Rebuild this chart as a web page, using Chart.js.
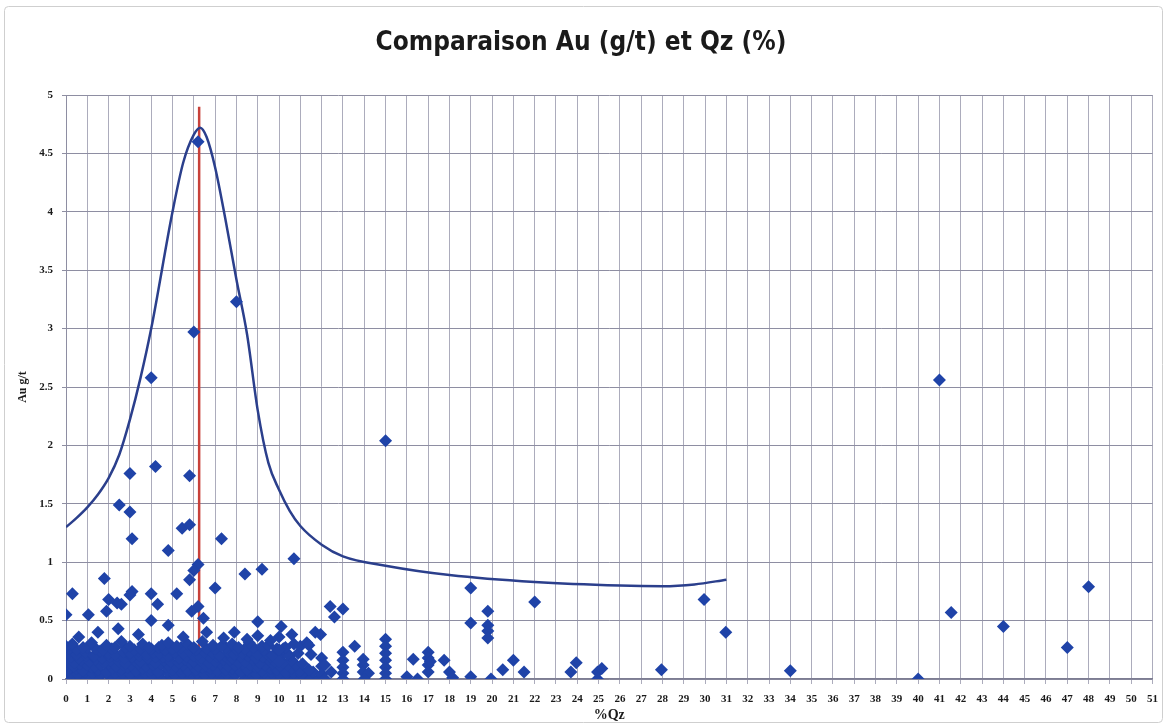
<!DOCTYPE html>
<html>
<head>
<meta charset="utf-8">
<script src="https://cdn.jsdelivr.net/npm/chart.js@4/dist/chart.umd.min.js"></script>
<style>
  html, body { margin: 0; padding: 0; background: #ffffff; }
  #wrap { width: 1167px; height: 727px; }
</style>
</head>
<body>
<div id="wrap"><canvas id="chart" width="1167" height="727"></canvas></div>
<script>
// Low-grade samples forming the dense band near the x axis, row by row
const lowQz = [
  0, 0.3, 0.7, 1.0, 1.4, 1.7, 2.1, 2.4, 2.8, 3.1, 3.5, 3.8, 4.2, 4.5, 4.9, 5.2, 5.6, 5.9, 6.3, 6.6, 7.0, 7.3, 7.7, 8.0, 8.4, 8.7, 9.1, 9.4, 9.8, 10.1, 10.5, 10.8, 11.2, 11.5, 11.9,
  0.2, 0.55, 0.9, 1.25, 1.6, 1.95, 2.3, 2.65, 3.0, 3.35, 3.7, 4.05, 4.4, 4.75, 5.1, 5.45, 5.8, 6.15, 6.5, 6.85, 7.2, 7.55, 7.9, 8.25, 8.6, 8.95, 9.3, 9.65, 10.0, 10.35, 10.7, 11.05, 11.6,
  0.1, 0.5, 0.8, 1.2, 1.5, 1.9, 2.2, 2.6, 2.9, 3.3, 3.6, 4.0, 4.3, 4.7, 5.0, 5.4, 5.7, 6.1, 6.4, 6.8, 7.1, 7.5, 7.8, 8.2, 8.5, 8.9, 9.2, 9.6, 9.9, 10.3, 10.6, 11.0, 11.4,
  0.0, 0.35, 0.65, 1.0, 1.35, 1.65, 2.0, 2.35, 2.7, 3.05, 3.4, 3.75, 4.1, 4.45, 4.8, 5.15, 5.5, 5.85, 6.2, 6.55, 6.9, 7.25, 7.6, 7.95, 8.3, 8.65, 9.0, 9.35, 9.7, 10.05, 10.4, 10.8,
  0, 0.4, 0.7, 1.1, 1.4, 1.8, 2.1, 2.5, 2.8, 3.2, 3.5, 3.9, 4.2, 4.6, 4.9, 5.3, 5.6, 6.0, 6.3, 6.7, 7.0, 7.4, 7.7, 8.1, 8.4, 8.8, 9.1, 9.5, 9.8, 10.2, 10.6, 11.1,
  0.25, 0.6, 0.95, 1.3, 1.7, 2.05, 2.4, 2.75, 3.1, 3.45, 3.85, 4.2, 4.55, 4.9, 5.3, 5.65, 6.0, 6.35, 6.75, 7.1, 7.45, 7.8, 8.2, 8.55, 8.9, 9.25, 9.6, 10.0, 10.5,
  0.1, 0.5, 0.9, 1.3, 1.6, 2.0, 2.3, 2.7, 3.0, 3.4, 3.8, 4.1, 4.4, 4.8, 5.1, 5.5, 5.8, 6.2, 6.5, 6.9, 7.2, 7.6, 7.9, 8.3, 8.6, 9.0, 9.4, 9.7, 10.1, 10.4, 10.9,
  0.15, 0.5, 1.0, 1.4, 1.75, 2.15, 2.8, 3.2, 3.5, 4.0, 4.35, 4.65, 5.0, 5.4, 6.1, 6.6, 7.0, 7.5, 8.0, 8.4, 8.8, 9.3, 9.9, 10.2,
  0.0, 0.3, 0.8, 1.2, 1.9, 2.3, 2.6, 3.0, 3.6, 3.9, 4.5, 4.8, 5.2, 5.7, 6.0, 6.4, 6.9, 7.3, 7.8, 8.1, 8.6, 9.2, 9.5, 10.3, 10.7
];
const lowAu = [
  0.02, 0.01, 0.03, 0.00, 0.02, 0.04, 0.01, 0.02, 0.00, 0.03, 0.01, 0.02, 0.04, 0.00, 0.02, 0.01, 0.03, 0.02, 0.00, 0.01, 0.03, 0.02, 0.01, 0.04, 0.00, 0.02, 0.03, 0.01, 0.02, 0.00, 0.03, 0.01, 0.02, 0.00, 0.01,
  0.05, 0.04, 0.06, 0.05, 0.04, 0.06, 0.05, 0.05, 0.04, 0.06, 0.05, 0.04, 0.05, 0.06, 0.04, 0.05, 0.06, 0.05, 0.04, 0.05, 0.06, 0.04, 0.05, 0.05, 0.06, 0.04, 0.05, 0.06, 0.04, 0.05, 0.05, 0.04, 0.06,
  0.08, 0.09, 0.07, 0.10, 0.08, 0.06, 0.09, 0.08, 0.10, 0.07, 0.09, 0.08, 0.06, 0.10, 0.08, 0.09, 0.07, 0.08, 0.10, 0.09, 0.07, 0.08, 0.09, 0.06, 0.08, 0.10, 0.07, 0.09, 0.08, 0.06, 0.09, 0.07, 0.08,
  0.12, 0.11, 0.13, 0.12, 0.11, 0.12, 0.13, 0.11, 0.12, 0.12, 0.13, 0.11, 0.12, 0.13, 0.12, 0.11, 0.12, 0.13, 0.11, 0.12, 0.12, 0.13, 0.11, 0.12, 0.13, 0.12, 0.11, 0.12, 0.13, 0.11, 0.12, 0.12,
  0.15, 0.14, 0.16, 0.15, 0.17, 0.14, 0.16, 0.15, 0.13, 0.16, 0.15, 0.17, 0.14, 0.16, 0.15, 0.14, 0.17, 0.15, 0.16, 0.14, 0.15, 0.17, 0.16, 0.14, 0.15, 0.16, 0.14, 0.17, 0.15, 0.14, 0.16, 0.13,
  0.19, 0.18, 0.20, 0.19, 0.18, 0.19, 0.20, 0.18, 0.19, 0.20, 0.18, 0.19, 0.19, 0.20, 0.18, 0.19, 0.20, 0.18, 0.19, 0.19, 0.20, 0.18, 0.19, 0.20, 0.18, 0.19, 0.19, 0.18, 0.20,
  0.22, 0.21, 0.23, 0.20, 0.24, 0.22, 0.21, 0.23, 0.22, 0.24, 0.21, 0.23, 0.22, 0.20, 0.23, 0.22, 0.24, 0.21, 0.23, 0.22, 0.20, 0.23, 0.21, 0.22, 0.24, 0.21, 0.22, 0.20, 0.23, 0.21, 0.22,
  0.26, 0.25, 0.27, 0.26, 0.25, 0.26, 0.27, 0.25, 0.26, 0.26, 0.27, 0.25, 0.26, 0.27, 0.25, 0.26, 0.26, 0.27, 0.25, 0.26, 0.27, 0.25, 0.26, 0.26,
  0.28, 0.30, 0.27, 0.31, 0.29, 0.27, 0.32, 0.28, 0.30, 0.27, 0.29, 0.31, 0.28, 0.30, 0.27, 0.32, 0.29, 0.28, 0.30, 0.27, 0.31, 0.28, 0.29, 0.27, 0.30
];

// Remaining individual samples
const sampleQz = [
  6.2, 6.0, 8.0, 4.0, 15.0, 41.0,
  3.0, 4.2, 2.5, 3.0, 3.1, 5.8, 5.45, 5.8, 4.8, 7.3,
  6.2, 6.0, 5.8, 7.0, 8.4, 9.2, 10.7,
  1.8, 0.3, 0.0, 3.1, 3.0, 4.0, 4.3, 5.2, 2.4, 2.6, 2.0, 1.9, 1.05,
  6.2, 5.9, 6.45, 7.9, 9.0, 9.0, 10.1, 10.0,
  12.4, 13.0, 12.6, 11.7, 11.95,
  0.6, 1.5, 2.45, 3.4, 4.8, 4.0, 5.5, 6.6, 7.4, 8.5, 9.6, 10.6,
  10.0, 10.0, 11.0, 11.3, 11.4, 11.5,
  12.0, 12.0, 12.0, 12.15, 12.15, 12.45,
  13.0, 13.0, 13.0, 13.0, 13.0, 13.55,
  13.95, 13.95, 13.95, 14.2, 14.0,
  15.0, 15.0, 15.0, 15.0, 15.0, 15.0, 15.0,
  16.0, 16.5, 16.3,
  17.0, 17.0, 17.0, 17.0, 17.1, 17.75, 18.0, 18.15,
  19.0, 19.0, 19.0, 19.8, 19.8, 19.8, 19.8, 19.95,
  20.5, 21.0, 21.5, 22.0, 23.95, 23.7, 24.95, 25.15, 24.95, 27.95, 29.95, 30.97,
  34.0, 40.0, 41.55, 44.0, 47.0, 48.0
];
const sampleAu = [
  4.60, 2.97, 3.23, 2.58, 2.04, 2.56,
  1.76, 1.82, 1.49, 1.43, 1.20, 1.74, 1.29, 1.32, 1.10, 1.20,
  0.98, 0.93, 0.85, 0.78, 0.90, 0.94, 1.03,
  0.86, 0.73, 0.55, 0.75, 0.72, 0.73, 0.64, 0.73, 0.65, 0.64, 0.68, 0.58, 0.55,
  0.62, 0.58, 0.52, 0.40, 0.49, 0.37, 0.45, 0.36,
  0.62, 0.60, 0.53, 0.40, 0.38,
  0.36, 0.40, 0.43, 0.38, 0.46, 0.50, 0.36, 0.40, 0.35, 0.34, 0.33, 0.38,
  0.25, 0.15, 0.28, 0.31, 0.29, 0.21,
  0.18, 0.11, 0.04, 0.12, 0.00, 0.06,
  0.23, 0.16, 0.10, 0.05, 0.00, 0.28,
  0.17, 0.12, 0.06, 0.05, 0.00,
  0.34, 0.28, 0.22, 0.16, 0.10, 0.05, 0.00,
  0.02, 0.00, 0.17,
  0.23, 0.18, 0.12, 0.06, 0.15, 0.16, 0.06, 0.01,
  0.78, 0.48, 0.02, 0.58, 0.46, 0.41, 0.35, 0.00,
  0.08, 0.16, 0.06, 0.66, 0.14, 0.06, 0.06, 0.09, 0.00, 0.08, 0.68, 0.40,
  0.07, 0.00, 0.57, 0.45, 0.27, 0.79
];

// Smoothed trend of Au against Qz
const trendQz = [0, 0.5, 1, 1.5, 2, 2.5, 3, 3.5, 4, 5, 5.5, 6, 6.3, 6.6, 7, 7.5, 8, 8.5, 9, 9.5, 10, 10.5, 11, 12, 13, 15, 18, 22, 26, 28, 29.5, 31];
const trendAu = [1.30, 1.38, 1.47, 1.58, 1.72, 1.92, 2.22, 2.58, 3.0, 4.0, 4.42, 4.66, 4.72, 4.64, 4.38, 3.92, 3.42, 2.95, 2.3, 1.85, 1.62, 1.44, 1.31, 1.15, 1.05, 0.97, 0.89, 0.83, 0.80, 0.795, 0.81, 0.85];

// Vertical marker at the peak Qz value
const markerQz = [6.25, 6.25];
const markerAu = [0, 4.9];

const toPoints = (xs, ys) => xs.map((x, i) => ({ x: x, y: ys[i] }));

const serif = "'Liberation Serif', 'DejaVu Serif', serif";

const frame = {
  id: 'frame',
  beforeDraw(chart) {
    const c = chart.ctx;
    c.save();
    c.fillStyle = '#ffffff';
    c.fillRect(0, 0, chart.width, chart.height);
    c.strokeStyle = '#cfcfcf';
    c.lineWidth = 1;
    c.beginPath();
    c.roundRect(4.5, 6.5, chart.width - 9, chart.height - 11, 4);
    c.stroke();
    c.restore();
  }
};

new Chart(document.getElementById('chart'), {
  type: 'scatter',
  data: {
    datasets: [
      {
        type: 'scatter',
        data: toPoints(lowQz.concat(sampleQz), lowAu.concat(sampleAu)),
        pointStyle: 'rectRot',
        pointRadius: 6.5,
        backgroundColor: '#1f43a8',
        borderColor: '#1f43a8',
        borderWidth: 0,
        order: 1
      },
      {
        type: 'line',
        data: toPoints(trendQz, trendAu),
        borderColor: '#2b3f8c',
        borderWidth: 2.5,
        pointRadius: 0,
        cubicInterpolationMode: 'monotone',
        fill: false,
        order: 2
      },
      {
        type: 'line',
        data: toPoints(markerQz, markerAu),
        borderColor: '#c8413a',
        borderWidth: 2.5,
        pointRadius: 0,
        fill: false,
        order: 3
      }
    ]
  },
  options: {
    responsive: false,
    animation: false,
    devicePixelRatio: 1,
    layout: { padding: { left: 8, right: 13, top: 0, bottom: 0 } },
    plugins: {
      legend: { display: false },
      tooltip: { enabled: false },
      title: {
        display: true,
        text: 'Comparaison Au (g/t) et Qz (%)',
        color: '#1a1a1a',
        font: { family: "'Liberation Sans Narrow', 'DejaVu Sans Condensed', sans-serif", size: 26, weight: 'bold', lineHeight: 1.2 },
        padding: { top: 28, bottom: 35.8 }
      }
    },
    scales: {
      x: {
        type: 'linear',
        min: 0,
        max: 51,
        ticks: {
          stepSize: 1,
          autoSkip: false,
          maxRotation: 0,
          padding: 9,
          color: '#1a1a1a',
          font: { family: serif, size: 11, weight: 'bold' }
        },
        grid: { color: '#acacbc', lineWidth: 1, tickLength: 5 },
        border: { color: '#7d7d92', width: 1.5 },
        title: {
          display: true,
          text: '%Qz',
          color: '#1a1a1a',
          font: { family: serif, size: 14, weight: 'bold' },
          padding: { top: 0, bottom: 3 }
        },
        afterFit(scale) { scale.height = 48; }
      },
      y: {
        min: 0,
        max: 5,
        ticks: {
          stepSize: 0.5,
          padding: 9,
          color: '#1a1a1a',
          font: { family: serif, size: 11, weight: 'bold' },
          callback: (v) => String(v)
        },
        grid: { color: '#8e8ea2', lineWidth: 1, tickLength: 4 },
        border: { color: '#8e8ea2' },
        title: {
          display: true,
          text: 'Au g/t',
          color: '#1a1a1a',
          font: { family: serif, size: 12, weight: 'bold' },
          padding: { top: 8, bottom: 0 }
        },
        afterFit(scale) { scale.width = 58; }
      }
    }
  },
  plugins: [frame]
});
</script>
</body>
</html>
